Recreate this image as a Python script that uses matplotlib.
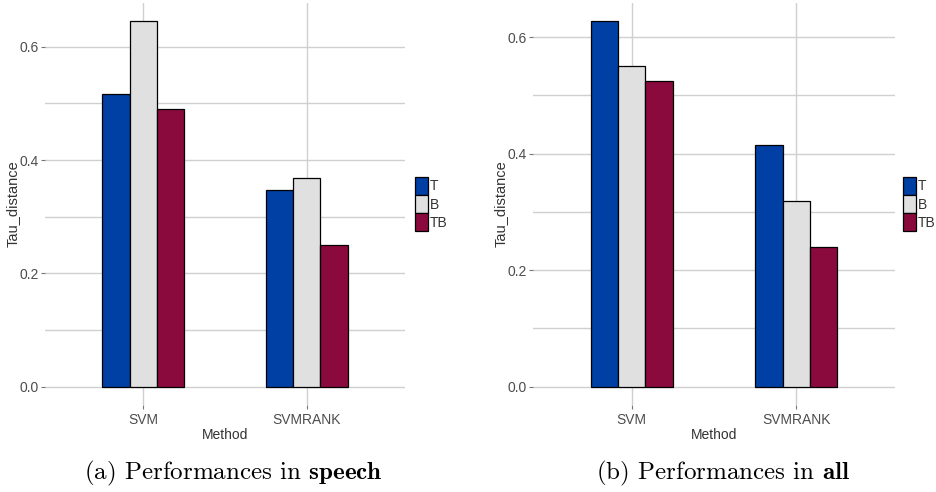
import numpy as np
import matplotlib
matplotlib.use("Agg")
from matplotlib import pyplot as plt

# Tau distance per method and feature set
methods = ["SVM", "SVMRANK"]
features = ["T", "B", "TB"]
speech_T = [0.516, 0.347]
speech_B = [0.645, 0.368]
speech_TB = [0.490, 0.250]
all_T = [0.627, 0.414]
all_B = [0.550, 0.318]
all_TB = [0.524, 0.239]
captions = [("(a)", "speech"), ("(b)", "all")]

colors = ["#003fa3", "#e0e0e0", "#8b0a3e"]
grid_col = "#d0d0d0"
text_col = "#4d4d4d"
sans = ["Liberation Sans", "DejaVu Sans"]

plt.rcParams["mathtext.fontset"] = "cm"

W, H = 936, 492
fig = plt.figure(figsize=(W / 100, H / 100), dpi=100)


def px_axes(x0, x1, top, bottom):
    return fig.add_axes([x0 / W, (H - bottom) / H, (x1 - x0) / W, (bottom - top) / H])


def draw_panel(ax, series, caption, xc, leg_gap):
    x = np.arange(1, len(methods) + 1)
    width = 1 / 6
    for i, (vals, c) in enumerate(zip(series, colors)):
        ax.bar(x + (i - 1) * width, vals, width, color=c, edgecolor="black",
               linewidth=0.9, label=features[i], zorder=3)

    ymax = max(max(s) for s in series)
    ax.set_ylim(-0.05 * ymax, ymax * 1.05)
    ax.set_xlim(0.4, 2.6)

    ax.set_yticks([0.0, 0.2, 0.4, 0.6])
    ax.set_yticks([0.1, 0.3, 0.5], minor=True)
    ax.set_xticks(x)
    ax.set_xticklabels(methods, fontfamily=sans, fontsize=10, color=text_col)
    for lab in ax.get_yticklabels():
        lab.set_fontfamily(sans)
        lab.set_fontsize(10)
        lab.set_color(text_col)
    ax.yaxis.set_major_formatter(matplotlib.ticker.FormatStrFormatter("%.1f"))

    ax.grid(True, which="both", axis="y", color=grid_col, linewidth=1.0, zorder=0)
    ax.grid(True, which="major", axis="x", color=grid_col, linewidth=1.0, zorder=0)
    ax.tick_params(axis="both", which="major", length=3, width=0.8, color="#777777", pad=1.5)
    ax.tick_params(axis="x", which="major", pad=3)
    ax.tick_params(axis="y", which="minor", length=0)
    for s in ax.spines.values():
        s.set_visible(False)

    aw = ax.get_position().width * W
    leg = ax.legend(loc="center left", bbox_to_anchor=(1 + leg_gap / aw, 0.5),
                    frameon=False, borderpad=0, borderaxespad=0,
                    handlelength=0.95, handleheight=1.55, labelspacing=0.05,
                    handletextpad=0.12, prop={"family": sans, "size": 10})
    for t in leg.get_texts():
        t.set_color("#333333")

    # axis titles and caption in figure pixels
    l, b, w, h = ax.get_position().bounds
    fig.text(l - 32 / W, b + h / 2, "Tau_distance", rotation=90, ha="center", va="center",
             fontfamily=sans, fontsize=10.5, color="#333333")
    fig.text(l + w / 2, 1 - 435 / H, "Method", ha="center", va="center",
             fontfamily=sans, fontsize=10, color="#333333")
    tag, word = caption
    fig.text(xc / W, 1 - 473 / H, tag + " Performances in $\\mathbf{" + word + "}$",
             ha="center", va="center", fontfamily="cmr10", fontsize=18, color="black")


ax1 = px_axes(45, 405, 3, 405)
draw_panel(ax1, [speech_T, speech_B, speech_TB], captions[0], 233, 10)
ax2 = px_axes(533, 895, 3, 405)
draw_panel(ax2, [all_T, all_B, all_TB], captions[1], 723, 8)

fig.savefig("out.png", dpi=100)
